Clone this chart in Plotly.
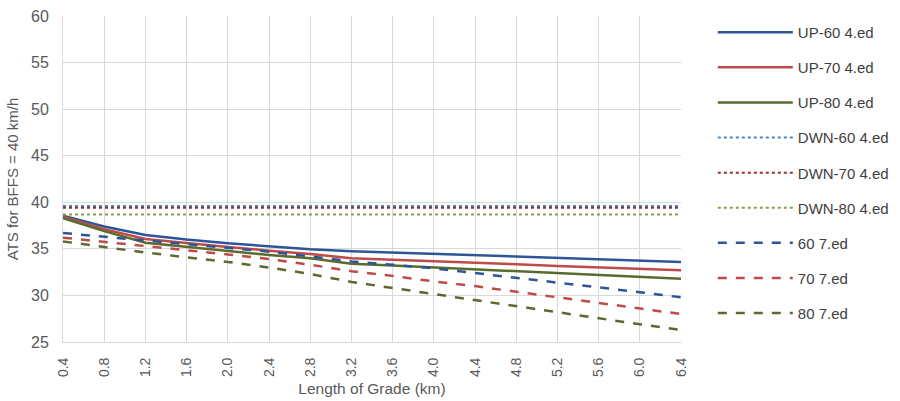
import plotly.graph_objects as go

lengths = ["0.4", "0.8", "1.2", "1.6", "2.0", "2.4", "2.8", "3.2",
           "3.6", "4.0", "4.4", "4.8", "5.2", "5.6", "6.0", "6.4"]

up60 = [38.55, 37.4, 36.5, 36.0, 35.6, 35.25, 34.95, 34.75,
        34.6, 34.45, 34.3, 34.2, 34.0, 33.9, 33.75, 33.6]
up70 = [38.45, 37.1, 36.05, 35.6, 35.2, 34.8, 34.45, 34.0,
        33.85, 33.65, 33.5, 33.35, 33.15, 33.0, 32.85, 32.7]
up80 = [38.3, 36.9, 35.65, 35.2, 34.8, 34.35, 34.0, 33.4,
        33.2, 33.0, 32.8, 32.6, 32.4, 32.2, 32.0, 31.8]
dwn60 = [39.6] * 16
dwn70 = [39.4] * 16
dwn80 = [38.7] * 16
ed60 = [36.7, 36.3, 35.9, 35.5, 35.1, 34.7, 34.2, 33.65,
        33.3, 32.9, 32.4, 31.9, 31.4, 30.9, 30.35, 29.8]
ed70 = [36.2, 35.75, 35.35, 34.9, 34.4, 33.9, 33.3, 32.6,
        32.1, 31.5, 31.0, 30.4, 29.8, 29.2, 28.6, 28.0]
ed80 = [35.8, 35.2, 34.6, 34.1, 33.6, 33.0, 32.3, 31.45,
        30.8, 30.1, 29.5, 28.8, 28.2, 27.5, 26.9, 26.3]

names = ["UP-60 4.ed", "UP-70 4.ed", "UP-80 4.ed",
         "DWN-60 4.ed", "DWN-70 4.ed", "DWN-80 4.ed",
         "60 7.ed", "70 7.ed", "80 7.ed"]
series = [up60, up70, up80, dwn60, dwn70, dwn80, ed60, ed70, ed80]
colors = ["#2E5597", "#BE4B48", "#5A6B2E",
          "#4A86C8", "#9B2D2A", "#8AA045",
          "#2E5597", "#BE4B48", "#5A6B2E"]
dashes = ["solid", "solid", "solid", "dot", "dot", "dot", "dash", "dash", "dash"]
widths = [2.5, 2.5, 2.5, 2, 2, 2, 2.5, 2.5, 2.5]

fig = go.Figure()
for i, (n, s, c, d, w) in enumerate(zip(names, series, colors, dashes, widths)):
    fig.add_trace(go.Scatter(x=lengths, y=s, mode="lines", name=n,
                             legendgroup=f"g{i}",
                             line=dict(color=c, dash=d, width=w)))

fig.update_layout(
    width=900, height=401,
    margin=dict(l=63, r=219, t=16, b=59),
    paper_bgcolor="white", plot_bgcolor="white",
    font=dict(family="Liberation Sans, Arial, sans-serif", size=13, color="#595959"),
    showlegend=True,
    legend=dict(xref="container", yref="paper", x=0.792, y=1.0,
                xanchor="left", yanchor="top",
                font=dict(size=15, color="#404040"),
                tracegroupgap=12.6, itemwidth=75),
    xaxis=dict(type="category", range=[0, 15], tickangle=-90, automargin=False,
               showgrid=True, gridcolor="#D9D9D9", gridwidth=1,
               showline=True, linecolor="#D9D9D9", linewidth=1,
               ticks="", ticklabelstandoff=9, tickfont=dict(size=14, color="#595959"),
               title=dict(text="Length of Grade (km)", font=dict(size=15.5, color="#595959"), standoff=7)),
    yaxis=dict(range=[25, 60], dtick=5, showgrid=True, gridcolor="#D9D9D9", automargin=False,
               showline=True, linecolor="#D9D9D9", linewidth=1,
               zeroline=False, ticks="", ticklabelstandoff=10,
               tickfont=dict(size=16, color="#595959"),
               title=dict(text="ATS for BFFS = 40 km/h", font=dict(size=15, color="#595959"), standoff=8)),
)

fig.write_html("out.html", config={"displayModeBar": False},
               post_script="document.body.style.margin='0';document.body.style.padding='0';")
